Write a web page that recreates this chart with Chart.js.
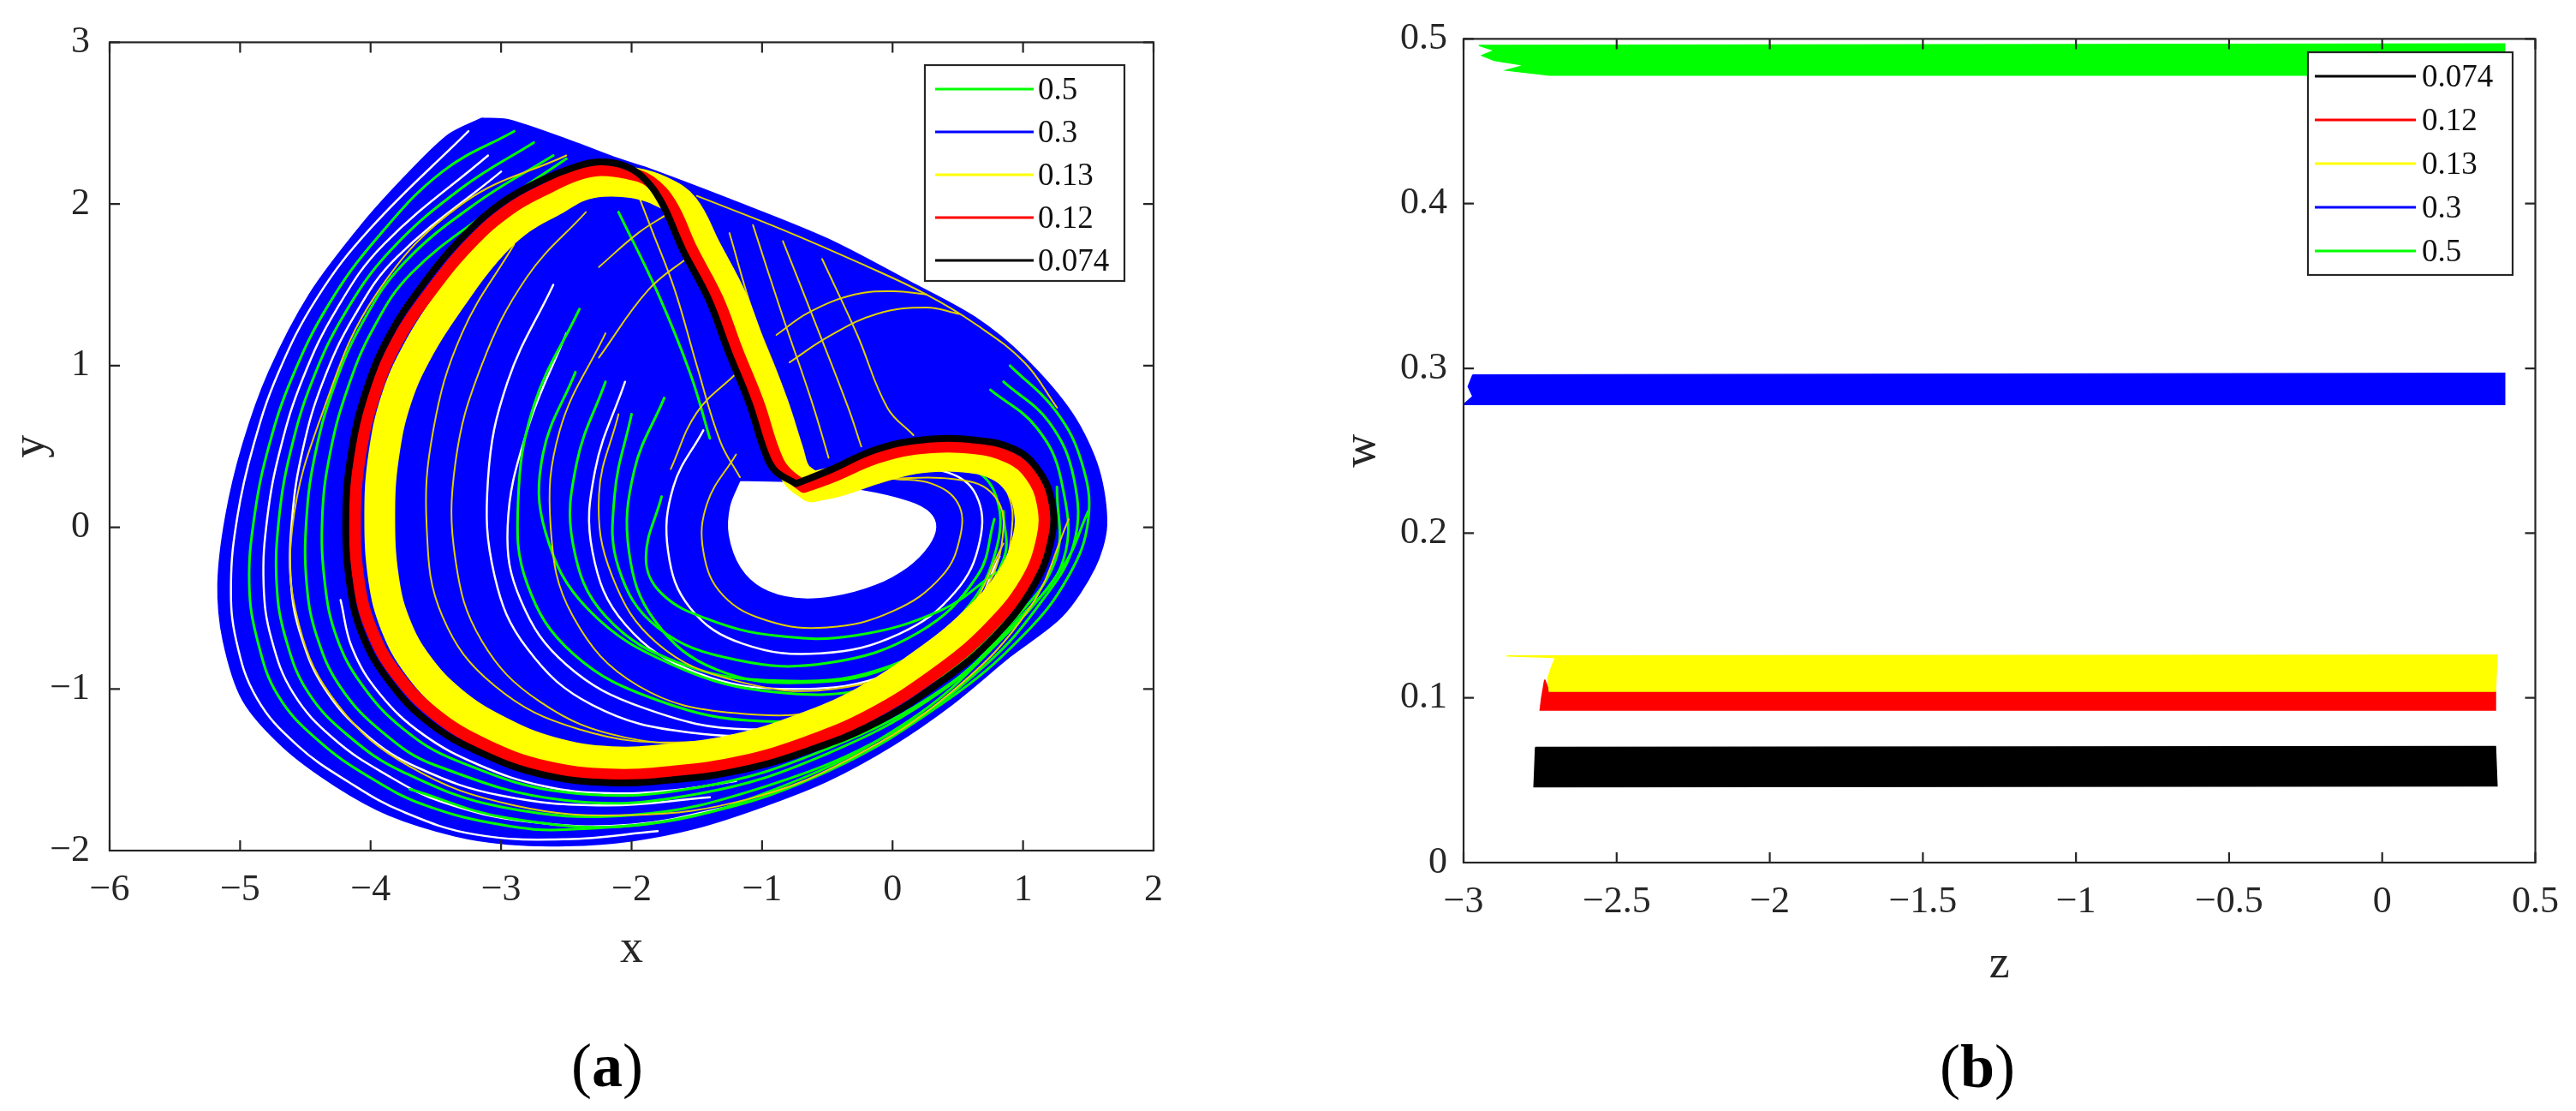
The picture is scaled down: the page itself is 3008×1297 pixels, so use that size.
<!DOCTYPE html>
<html>
<head>
<meta charset="utf-8">
<script src="https://cdn.jsdelivr.net/npm/chart.js@4.4.1/dist/chart.umd.min.js"></script>
<style>
    html, body { margin: 0; padding: 0; background: #fff; width: 3008px; height: 1297px; overflow: hidden; }
    .panel { position: absolute; top: 0; }
    #boxA { left: 0; width: 1460px; height: 1160px; }
    #boxB { left: 1480px; width: 1528px; height: 1180px; }
    .cap { position: absolute; font-family: "Liberation Serif", serif; font-size: 72px; color: #000; transform: translate(-50%, -50%); }
</style>
</head>
<body>
<div class="panel" id="boxA"><canvas id="chartA"></canvas></div>
<div class="panel" id="boxB"><canvas id="chartB"></canvas></div>
<div class="cap" style="left:709px; top:1244px">(<b>a</b>)</div>
<div class="cap" style="left:2309px; top:1245px">(<b>b</b>)</div>

<script>
// Legend labels and colours (same for both panels, different order)
const labelsA = ['0.5', '0.3', '0.13', '0.12', '0.074'];
const colorsA = ['#00ff00', '#0000ff', '#ffff00', '#ff0000', '#000000'];
const labelsB = ['0.074', '0.12', '0.13', '0.3', '0.5'];
const colorsB = ['#000000', '#ff0000', '#ffff00', '#0000ff', '#00ff00'];

// ---- panel (a): x-y phase portrait ----
// outline of the dense 0.3 (blue) region
const blueOutline = [[-3.15,2.53],[-2.94,2.52],[-2.43,2.38],[-2.1,2.28],[-1.87,2.22],[-1.25,2.03],[-0.5,1.785],[0.13,1.52],
    [0.63,1.30],[1.01,1.05],[1.38,0.70],[1.58,0.36],[1.64,0.01],[1.55,-0.25],[1.30,-0.55],[0.90,-0.80],[0.45,-1.10],
    [0.0,-1.35],[-0.5,-1.57],[-1.0,-1.73],[-1.5,-1.86],[-2.0,-1.94],[-2.5,-1.97],[-2.95,-1.96],[-3.35,-1.91],[-3.86,-1.78],
    [-4.27,-1.60],[-4.67,-1.36],[-4.98,-1.07],[-5.13,-0.70],[-5.17,-0.35],[-5.11,0.07],[-4.98,0.51],[-4.78,0.96],
    [-4.47,1.44],[-4.06,1.88],[-3.70,2.20],[-3.40,2.43],[-3.15,2.53]];
// empty hole in the middle
const holeOutline = [[-1.17,0.29],[-0.74,0.28],[-0.24,0.235],[0.13,0.165],[0.29,0.095],[0.34,0.0],[0.28,-0.12],
    [0.12,-0.25],[-0.13,-0.36],[-0.45,-0.43],[-0.75,-0.44],[-1.0,-0.38],[-1.17,-0.25],[-1.26,-0.05],[-1.25,0.13],[-1.17,0.29]];

// gaps between the blue trajectories
const gap1 = [[-4.23,-0.45],[-4.14,-0.75],[-3.93,-1.03],[-3.6,-1.28],[-3.17,-1.47],[-2.68,-1.60],[-2.17,-1.645],[-1.66,-1.625],[-1.2,-1.57]];
const gap2 = [[-3.25,2.45],[-4.0,1.85],[-4.41,1.42],[-4.71,0.95],[-4.90,0.50],[-5.02,0.07],[-5.07,-0.35],[-5.03,-0.70],
    [-4.87,-1.06],[-4.56,-1.35],[-4.16,-1.58],[-3.75,-1.76],[-3.2,-1.9],[-2.5,-1.93],[-1.8,-1.88]];
const gap3 = [[-3.1,2.3],[-3.9,1.75],[-4.26,1.35],[-4.52,0.92],[-4.69,0.49],[-4.79,0.07],[-4.82,-0.35],[-4.76,-0.69],
    [-4.59,-1.03],[-4.28,-1.31],[-3.88,-1.53],[-3.45,-1.70],[-2.8,-1.82],[-2.0,-1.84],[-1.2,-1.72]];
const gap4 = [[-3.0,2.2],[-3.8,1.67],[-4.13,1.30],[-4.37,0.89],[-4.52,0.48],[-4.60,0.07],[-4.61,-0.35],[-4.53,-0.68],
    [-4.35,-1.0],[-4.04,-1.28],[-3.63,-1.49],[-3.0,-1.66],[-2.2,-1.72],[-1.4,-1.67]];
const gap5 = [[-2.5,1.2],[-2.8,0.6],[-2.95,0.0],[-2.85,-0.45],[-2.5,-0.85],[-1.9,-1.12],[-1.1,-1.25],[-0.3,-1.15],[0.4,-0.88]];
const gap6 = [[-2.6,1.5],[-2.95,0.9],[-3.1,0.3],[-3.05,-0.3],[-2.8,-0.75],[-2.3,-1.1],[-1.55,-1.27],[-0.75,-1.25],[0.0,-1.02],
    [0.55,-0.65],[0.88,-0.2]];
const gap7 = [[-2.05,0.9],[-2.28,0.35],[-2.3,-0.15],[-2.05,-0.6],[-1.5,-0.9],[-0.75,-1.0],[0.0,-0.9],[0.55,-0.6],[0.82,-0.18]];
const gap8 = [[-1.45,0.6],[-1.68,0.25],[-1.72,-0.15],[-1.55,-0.5],[-1.15,-0.72],[-0.55,-0.78],[0.05,-0.66],[0.48,-0.4],
    [0.67,-0.08],[0.64,0.2],[0.42,0.34],[0.05,0.36]];

// 0.5 (green) trajectories
const greenArc1 = [[-2.9,2.45],[-3.45,2.2],[-3.95,1.79],[-4.32,1.38],[-4.60,0.93],[-4.78,0.50],[-4.89,0.07],[-4.93,-0.35],
    [-4.87,-0.69],[-4.71,-1.04],[-4.40,-1.32],[-4.0,-1.55],[-3.58,-1.72],[-3.0,-1.84],[-2.5,-1.87],[-1.5,-1.78],[-0.5,-1.51],
    [0.4,-1.08],[1.0,-0.67],[1.35,-0.3],[1.5,0.05],[1.45,0.4],[1.25,0.72],[0.9,1.0]];
const greenArc2 = [[-2.75,2.38],[-3.3,2.1],[-3.85,1.71],[-4.20,1.32],[-4.45,0.90],[-4.61,0.48],[-4.70,0.07],[-4.72,-0.35],
    [-4.65,-0.69],[-4.48,-1.02],[-4.17,-1.29],[-3.76,-1.51],[-3.0,-1.73],[-2.0,-1.78],[-1.0,-1.61],[0.0,-1.27],[0.7,-0.86],
    [1.15,-0.45],[1.39,-0.1],[1.39,0.3],[1.2,0.65],[0.85,0.9]];
const greenArc3 = [[-2.6,2.3],[-3.2,2.0],[-3.75,1.63],[-4.06,1.27],[-4.28,0.87],[-4.42,0.47],[-4.49,0.07],[-4.49,-0.35],
    [-4.41,-0.68],[-4.23,-0.99],[-3.92,-1.26],[-3.51,-1.47],[-2.5,-1.69],[-1.5,-1.65],[-0.5,-1.40],[0.4,-1.0],[0.95,-0.58],
    [1.31,-0.2],[1.29,0.3],[1.1,0.62],[0.75,0.85]];
const greenArc4 = [[-2.5,2.28],[-3.1,1.95],[-3.69,1.57],[-3.98,1.23],[-4.18,0.85],[-4.31,0.46],[-4.37,0.07],[-4.35,-0.35],
    [-4.26,-0.68],[-4.07,-0.97],[-3.76,-1.24],[-3.35,-1.44],[-2.5,-1.64],[-1.5,-1.61],[-0.5,-1.37],[0.4,-0.99],[0.9,-0.6],
    [1.25,-0.2],[1.26,0.25]];
const greenArc5 = [[-3.7,-1.62],[-2.94,-1.8],[-1.92,-1.84],[-0.9,-1.62],[0.12,-1.2],[0.8,-0.72],[1.3,-0.25],[1.5,0.1]];
const greenInner1 = [[-2.4,1.35],[-2.75,0.75],[-2.87,0.15],[-2.8,-0.35],[-2.45,-0.78],[-1.8,-1.07],[-1.0,-1.2],[-0.2,-1.12],
    [0.5,-0.85],[0.95,-0.45],[1.05,-0.05]];
const greenInner2 = [[-2.43,0.96],[-2.68,0.45],[-2.66,-0.03],[-2.33,-0.51],[-1.66,-0.86],[-0.9,-1.02],[-0.13,-0.99],
    [0.53,-0.76],[1.04,-0.38]];
const greenInner3 = [[-2.2,0.9],[-2.42,0.4],[-2.45,-0.1],[-2.2,-0.55],[-1.6,-0.85],[-0.85,-0.95],[-0.1,-0.88],[0.5,-0.6],
    [0.85,-0.2],[0.85,0.1]];
const greenInner4 = [[-2.0,0.7],[-2.13,0.2],[-2.1,-0.25],[-1.8,-0.62],[-1.2,-0.82],[-0.5,-0.84],[0.2,-0.65],[0.65,-0.3],[0.78,0.05]];
const greenInner5 = [[-1.77,0.19],[-1.89,-0.19],[-1.77,-0.41],[-1.41,-0.57],[-0.9,-0.67],[-0.29,-0.67],[0.38,-0.51],[0.79,-0.28]];
const greenInner6 = [[-1.75,0.8],[-1.98,0.35],[-2.02,-0.15],[-1.82,-0.58],[-1.35,-0.88],[-0.65,-0.96],[0.05,-0.84],[0.55,-0.52],
    [0.8,-0.12],[0.78,0.22],[0.55,0.38],[0.1,0.4]];
const greenFold = [[-2.1,1.95],[-1.8,1.45],[-1.55,0.95],[-1.4,0.55]];

// 0.13 (yellow) thin trajectories
const yellowThin1 = [[-2.35,1.95],[-2.8,1.55],[-3.15,1.0],[-3.35,0.4],[-3.35,-0.2],[-3.15,-0.7],[-2.7,-1.08],[-2.05,-1.3],
    [-1.3,-1.32],[-0.55,-1.18],[0.15,-0.88],[0.7,-0.45],[0.95,-0.05],[0.92,0.25],[0.7,0.38],[0.3,0.42],[-0.2,0.38]];
const yellowThin2 = [[-2.1,0.7],[-2.25,0.2],[-2.15,-0.3],[-1.8,-0.72],[-1.2,-0.95],[-0.45,-1.0],[0.25,-0.8],[0.7,-0.4],
    [0.85,0.0],[0.75,0.22],[0.45,0.3],[0.0,0.3],[-0.5,0.28]];
const yellowThin3 = [[-2.5,2.3],[-3.3,2.0],[-3.95,1.45],[-4.35,0.75],[-4.6,0.0],[-4.55,-0.6],[-4.25,-1.1],[-3.7,-1.48],
    [-2.9,-1.72],[-2.0,-1.78],[-1.1,-1.68],[-0.3,-1.42],[0.45,-1.02],[1.05,-0.5],[1.35,0.05]];
const yellowThin4 = [[-1.2,0.45],[-1.42,0.15],[-1.45,-0.15],[-1.3,-0.42],[-0.95,-0.58],[-0.5,-0.62],[0.0,-0.52],[0.38,-0.3],
    [0.52,-0.05],[0.5,0.15],[0.3,0.27],[0.0,0.3]];
const yellowThin5 = [[-2.2,1.2],[-2.55,0.6],[-2.62,0.0],[-2.45,-0.55],[-1.95,-0.98],[-1.2,-1.15],[-0.35,-1.1],[0.35,-0.8],
    [0.8,-0.35],[0.92,0.05],[0.85,0.3]];
const yellowThin6 = [[-2.9,1.75],[-3.3,1.2],[-3.52,0.6],[-3.57,0.0],[-3.45,-0.55],[-3.05,-0.98],[-2.4,-1.25],[-1.6,-1.33],
    [-0.8,-1.22],[-0.05,-0.95],[0.55,-0.55],[0.85,-0.1]];
const yellowEdge = [[-1.5,2.05],[-0.84,1.84],[-0.24,1.63],[0.26,1.44],[0.63,1.26],[1.01,1.02],[1.26,0.74]];
const yellowArc1 = [[-0.89,1.19],[-0.64,1.33],[-0.29,1.44],[0.01,1.46],[0.26,1.44]];
const yellowArc2 = [[-0.79,1.02],[-0.49,1.18],[-0.12,1.32],[0.26,1.36],[0.51,1.32]];
const yellowFold1 = [[-1.25,1.82],[-1.07,1.33],[-0.84,0.85],[-0.69,0.39]];
const yellowFold2 = [[-1.07,1.87],[-0.84,1.30],[-0.62,0.78],[-0.49,0.43]];
const yellowFold3 = [[-0.84,1.77],[-0.59,1.26],[-0.34,0.74],[-0.24,0.50]];
const yellowFold4 = [[-0.54,1.66],[-0.27,1.19],[-0.04,0.74],[0.16,0.57]];
const yellowLeft1 = [[-1.97,2.10],[-1.85,1.85],[-1.67,1.47],[-1.50,1.00],[-1.32,0.53],[-1.17,0.31]];
const yellowLeft2 = [[-2.25,1.61],[-1.95,1.82],[-1.72,1.94]];
const yellowLeft3 = [[-2.25,1.05],[-1.87,1.47],[-1.55,1.68]];
const yellowLeft4 = [[-1.70,0.36],[-1.50,0.71],[-1.20,0.95]];

// 0.13 (yellow) thick band, 0.12 (red) and 0.074 (black) orbits
const yellowBand = [[-0.62,0.25],[-0.74,0.33],[-0.80,0.47],[-0.92,0.77],[-1.08,1.09],[-1.23,1.41],[-1.43,1.72],[-1.60,1.98],
    [-1.78,2.08],[-1.98,2.13],[-2.22,2.14],[-2.40,2.11],[-2.58,2.03],[-2.86,1.90],[-3.12,1.70],[-3.38,1.42],[-3.62,1.12],
    [-3.80,0.80],[-3.90,0.44],[-3.93,0.07],[-3.90,-0.32],[-3.81,-0.60],[-3.64,-0.85],[-3.37,-1.08],[-3.02,-1.26],
    [-2.62,-1.39],[-2.16,-1.45],[-1.66,-1.43],[-1.18,-1.37],[-0.70,-1.25],[-0.22,-1.08],[0.24,-0.84],[0.62,-0.59],
    [0.91,-0.32],[1.04,-0.06],[1.04,0.14],[0.96,0.28],[0.84,0.37],[0.60,0.43],[0.22,0.43],[-0.10,0.37],[-0.40,0.29],[-0.62,0.25]];
const redOrbit = [[-0.68,0.25],[-0.83,0.35],[-0.91,0.47],[-1.03,0.77],[-1.19,1.09],[-1.34,1.41],[-1.54,1.72],[-1.70,2.00],
    [-1.86,2.14],[-2.03,2.19],[-2.24,2.21],[-2.42,2.18],[-2.64,2.10],[-2.93,1.97],[-3.23,1.76],[-3.53,1.47],[-3.79,1.16],
    [-3.97,0.82],[-4.08,0.45],[-4.12,0.07],[-4.09,-0.34],[-3.99,-0.64],[-3.80,-0.91],[-3.50,-1.16],[-3.11,-1.35],
    [-2.66,-1.48],[-2.17,-1.53],[-1.66,-1.51],[-1.16,-1.45],[-0.66,-1.33],[-0.17,-1.16],[0.32,-0.91],[0.72,-0.64],
    [1.02,-0.34],[1.15,-0.06],[1.15,0.15],[1.06,0.32],[0.90,0.43],[0.62,0.49],[0.22,0.49],[-0.12,0.43],[-0.47,0.31],[-0.68,0.25]];
const blackOrbit = [[-0.74,0.27],[-0.90,0.35],[-0.98,0.47],[-1.10,0.77],[-1.26,1.09],[-1.41,1.41],[-1.61,1.72],[-1.77,2.01],
    [-1.92,2.17],[-2.07,2.24],[-2.25,2.26],[-2.43,2.23],[-2.68,2.15],[-2.99,2.01],[-3.30,1.79],[-3.60,1.50],[-3.86,1.18],
    [-4.04,0.83],[-4.15,0.45],[-4.19,0.07],[-4.16,-0.35],[-4.06,-0.67],[-3.86,-0.95],[-3.55,-1.21],[-3.14,-1.40],
    [-2.68,-1.53],[-2.17,-1.58],[-1.66,-1.56],[-1.15,-1.50],[-0.64,-1.38],[-0.13,-1.21],[0.38,-0.95],[0.79,-0.67],
    [1.09,-0.35],[1.22,-0.06],[1.22,0.16],[1.12,0.35],[0.94,0.48],[0.63,0.54],[0.22,0.54],[-0.13,0.48],[-0.49,0.35],[-0.74,0.27]];

// ---- panel (b): z-w projection, outline of each band ----
const bandBlack = [[-2.765,0.070],[0.37,0.0705],[0.375,0.0465],[-2.77,0.046],[-2.765,0.070]];
const bandRed = [[-2.735,0.111],[-2.72,0.104],[0.37,0.104],[0.37,0.0925],[-2.75,0.0925],[-2.745,0.100],[-2.735,0.111]];
const bandYellow = [[-2.86,0.1255],[0.375,0.126],[0.37,0.104],[-2.72,0.104],[-2.725,0.112],[-2.71,0.120],[-2.70,0.1245],[-2.86,0.1255]];
const bandBlue = [[-2.97,0.296],[0.40,0.297],[0.40,0.278],[-3.0,0.278],[-2.97,0.283],[-2.985,0.289],[-2.97,0.296]];
const bandGreen = [[-2.95,0.496],[0.40,0.497],[0.40,0.478],[-2.72,0.478],[-2.86,0.481],[-2.80,0.484],[-2.90,0.487],
    [-2.94,0.490],[-2.90,0.493],[-2.95,0.496]];

const AXIS = '#262626';
const SERIF = '"Liberation Serif", "Times New Roman", serif';
const THIN_YELLOW = '#e0d000';

function fmtTick(v) {
    const s = String(Math.round(v * 10) / 10);
    return s.replace('-', '\u2212');
}

// Orbit line through the chart scales
function path(data, color, width, order, tension) {
    return {
        data: data, showLine: true, borderColor: color, borderWidth: width,
        pointRadius: 0, pointHoverRadius: 0, tension: tension === undefined ? 0.4 : tension,
        fill: false, order: order, borderCapStyle: 'round', borderJoinStyle: 'round'
    };
}

// Filled closed outline
function area(data, color, order, tension, edge) {
    return {
        data: data, showLine: true, borderColor: edge || color, borderWidth: 1.5, backgroundColor: color,
        pointRadius: 0, pointHoverRadius: 0, tension: tension, fill: 'shape', order: order
    };
}

// Box around the plot with inward ticks, like the original figure
const frame = {
    id: 'frame',
    afterDatasetsDraw(chart) {
        const { ctx, chartArea: a } = chart;
        const sx = chart.scales.x, sy = chart.scales.y;
        ctx.save();
        ctx.strokeStyle = AXIS;
        ctx.lineWidth = 2.2;
        ctx.strokeRect(a.left, a.top, a.right - a.left, a.bottom - a.top);
        ctx.beginPath();
        sx.ticks.forEach(t => {
            const px = sx.getPixelForValue(t.value);
            ctx.moveTo(px, a.bottom); ctx.lineTo(px, a.bottom - 12);
            ctx.moveTo(px, a.top); ctx.lineTo(px, a.top + 12);
        });
        sy.ticks.forEach(t => {
            const py = sy.getPixelForValue(t.value);
            ctx.moveTo(a.left, py); ctx.lineTo(a.left + 12, py);
            ctx.moveTo(a.right, py); ctx.lineTo(a.right - 12, py);
        });
        ctx.stroke();
        ctx.restore();
    }
};

// Legend box drawn inside the plot area
const legendBox = {
    id: 'legendBox',
    afterDraw(chart, args, o) {
        const ctx = chart.ctx;
        ctx.save();
        ctx.fillStyle = '#fff';
        ctx.fillRect(o.x, o.y, o.w, o.h);
        ctx.strokeStyle = AXIS;
        ctx.lineWidth = 2.2;
        ctx.strokeRect(o.x, o.y, o.w, o.h);
        ctx.font = '37px ' + SERIF;
        ctx.textBaseline = 'middle';
        o.labels.forEach((lab, i) => {
            const y = o.firstY + i * o.step;
            ctx.strokeStyle = o.colors[i];
            ctx.lineWidth = 3;
            ctx.beginPath();
            ctx.moveTo(o.lineX0, y);
            ctx.lineTo(o.lineX1, y);
            ctx.stroke();
            ctx.fillStyle = '#111';
            ctx.fillText(lab, o.textX, y + 2);
        });
        ctx.restore();
    }
};

function axes(xMin, xMax, xStep, yMin, yMax, yStep, xTitle, yTitle, yWidth, yPad, xHeight) {
    const tickFont = { family: SERIF, size: 44 };
    const titleFont = { family: SERIF, size: 54 };
    return {
        x: {
            type: 'linear', min: xMin, max: xMax,
            grid: { display: false, drawTicks: false },
            border: { display: false },
            ticks: { stepSize: xStep, padding: 20, color: AXIS, font: tickFont, callback: fmtTick, maxRotation: 0, autoSkip: false },
            title: { display: true, text: xTitle, color: AXIS, font: titleFont, padding: 0 },
            afterFit(scale) { scale.height = xHeight; }
        },
        y: {
            type: 'linear', min: yMin, max: yMax,
            grid: { display: false, drawTicks: false },
            border: { display: false },
            ticks: { stepSize: yStep, padding: yPad, color: AXIS, font: tickFont, callback: fmtTick, autoSkip: false },
            title: { display: true, text: yTitle, color: AXIS, font: titleFont, padding: 0 },
            afterFit(scale) { scale.width = yWidth; }
        }
    };
}

const baseOptions = {
    responsive: true,
    maintainAspectRatio: false,
    animation: false,
    devicePixelRatio: 1,
    events: []
};

const gaps = [gap1, gap2, gap3, gap4, gap5, gap6, gap7, gap8];
const greens = [greenArc1, greenArc2, greenArc3, greenArc4, greenArc5, greenInner1, greenInner2,
    greenInner3, greenInner4, greenInner5, greenInner6, greenFold];
const yellowsThin = [yellowThin1, yellowThin2, yellowThin3, yellowThin4, yellowThin5, yellowThin6, yellowEdge,
    yellowArc1, yellowArc2, yellowFold1, yellowFold2, yellowFold3, yellowFold4, yellowLeft1, yellowLeft2,
    yellowLeft3, yellowLeft4];

// Panel (a)
new Chart(document.getElementById('chartA'), {
    type: 'scatter',
    data: {
        datasets: [
            area(blueOutline, colorsA[1], 100, 0.3),
            area(holeOutline, '#ffffff', 99, 0.35, '#0000ff'),
            ...gaps.map(g => path(g, '#ffffff', 2.5, 70)),
            ...greens.map(g => path(g, colorsA[0], 3, 60)),
            ...yellowsThin.map(g => path(g, THIN_YELLOW, 2, 50)),
            path(yellowBand, colorsA[2], 36, 30),
            path(redOrbit, colorsA[3], 14, 20),
            path(blackOrbit, colorsA[4], 8, 10)
        ]
    },
    options: Object.assign({}, baseOptions, {
        layout: { padding: { left: 4, top: 45, right: 113, bottom: 19 } },
        scales: axes(-6, 2, 1, -2, 3, 1, 'x', 'y', 124, 23, 148),
        plugins: {
            legend: { display: false },
            tooltip: { enabled: false },
            legendBox: {
                x: 1080, y: 76, w: 233, h: 252, firstY: 104, step: 50,
                lineX0: 1092, lineX1: 1207, textX: 1212, labels: labelsA, colors: colorsA
            }
        }
    }),
    plugins: [frame, legendBox]
});

// Panel (b)
new Chart(document.getElementById('chartB'), {
    type: 'scatter',
    data: {
        datasets: [
            area(bandBlack, colorsB[0], 5, 0),
            area(bandRed, colorsB[1], 4, 0),
            area(bandYellow, colorsB[2], 3, 0),
            area(bandBlue, colorsB[3], 2, 0),
            area(bandGreen, colorsB[4], 1, 0)
        ]
    },
    options: Object.assign({}, baseOptions, {
        layout: { padding: { left: 78, top: 29, right: 41, bottom: 21 } },
        scales: axes(-3, 0.5, 0.5, 0, 0.5, 0.1, 'z', 'w', 151, 19, 152),
        plugins: {
            legend: { display: false },
            tooltip: { enabled: false },
            legendBox: {
                x: 1215, y: 61, w: 239, h: 260, firstY: 89, step: 51,
                lineX0: 1223, lineX1: 1341, textX: 1348, labels: labelsB, colors: colorsB
            }
        }
    }),
    plugins: [frame, legendBox]
});
</script>
</body>
</html>
